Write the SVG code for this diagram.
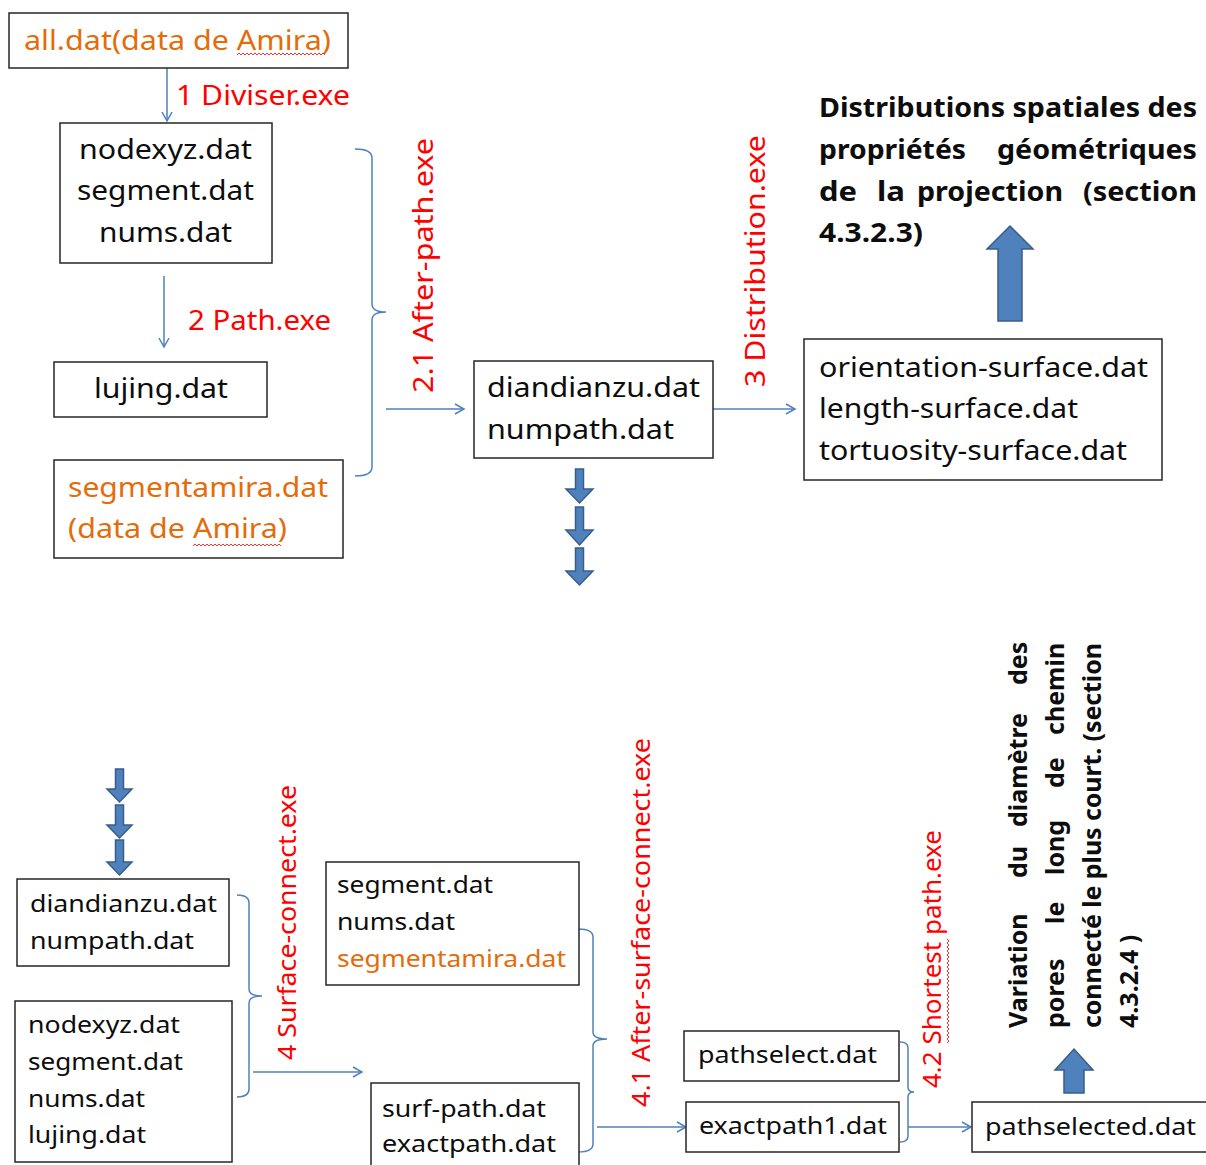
<svg xmlns="http://www.w3.org/2000/svg" width="1206" height="1165" viewBox="0 0 1206 1165">
<style>
.box{fill:#fff;stroke:#262626;stroke-width:1.5}
.t{font-family:"Noto Sans","Open Sans","Liberation Sans",sans-serif;font-size:27px;fill:#0d0d0d}
.s{font-size:24px}
.o{fill:#E46C0A}
.r{fill:#FF0000}
.b{font-weight:bold}
.conn{stroke:#4F81BD;stroke-width:1.5;fill:none}
.fat{fill:#4F81BD;stroke:#385D8A;stroke-width:1.5}
.sq{stroke:#FF3030;stroke-width:1;fill:none}
</style>
<defs>
<marker id="ah" markerWidth="12" markerHeight="12" refX="10" refY="6" orient="auto" markerUnits="userSpaceOnUse">
<path d="M1,1 L10,6 L1,11" fill="none" stroke="#4F81BD" stroke-width="1.5"/>
</marker>
</defs>
<rect width="1206" height="1165" fill="#fff"/>

<g id="connectors">
<line class="conn" x1="167" y1="68" x2="167" y2="121" marker-end="url(#ah)"/>
<line class="conn" x1="164" y1="276" x2="164" y2="347" marker-end="url(#ah)"/>
<path class="conn" d="M355,149 Q372,149 372,158 L372,304 Q372,312 386,312 Q372,312 372,320 L372,467 Q372,476 355,476"/>
<line class="conn" x1="386" y1="409" x2="464" y2="409" marker-end="url(#ah)"/>
<line class="conn" x1="713" y1="409" x2="795" y2="409" marker-end="url(#ah)"/>
<path class="conn" d="M237,895 Q249,895 249,903 L249,989 Q249,996 262,996 Q249,996 249,1003 L249,1089 Q249,1097 237,1097"/>
<line class="conn" x1="253" y1="1072" x2="362" y2="1072" marker-end="url(#ah)"/>
<path class="conn" d="M578,929 Q593,929 593,937 L593,1032 Q593,1039 607,1039 Q593,1039 593,1046 L593,1144 Q593,1152 578,1152"/>
<line class="conn" x1="597" y1="1127" x2="686" y2="1127" marker-end="url(#ah)"/>
<path class="conn" d="M900,1042 Q908,1042 908,1048 L908,1087 Q908,1092 914,1092 Q908,1092 908,1097 L908,1136 Q908,1142 900,1142"/>
<line class="conn" x1="908" y1="1127" x2="971" y2="1127" marker-end="url(#ah)"/>
<polygon class="fat" points="998,321 1022,321 1022,249 1033,249 1010,226 987,249 998,249"/>
<polygon class="fat" points="1064,1093 1084,1093 1084,1070 1093,1070 1074,1049 1055,1070 1064,1070"/>
<polygon class="fat" points="575.5,469 583.5,469 583.5,489 593,489 579.5,503 566,489 575.5,489"/>
<polygon class="fat" points="575.5,507 583.5,507 583.5,530 593,530 579.5,545 566,530 575.5,530"/>
<polygon class="fat" points="575.5,548 583.5,548 583.5,571 593,571 579.5,585 566,571 575.5,571"/>
<polygon class="fat" points="115.5,769 123.5,769 123.5,789 132,789 119.5,802 107,789 115.5,789"/>
<polygon class="fat" points="115.5,805 123.5,805 123.5,825 132,825 119.5,838 107,825 115.5,825"/>
<polygon class="fat" points="115.5,840 123.5,840 123.5,862 132,862 119.5,875 107,862 115.5,862"/>
</g>

<g id="labels">
<text class="t r" x="176" y="105" textLength="174" lengthAdjust="spacingAndGlyphs">1 Diviser.exe</text>
<text class="t r" x="188" y="330" textLength="143" lengthAdjust="spacingAndGlyphs">2 Path.exe</text>
<text class="t r" transform="translate(433,393) rotate(-90)" textLength="255" lengthAdjust="spacingAndGlyphs">2.1 After-path.exe</text>
<text class="t r" transform="translate(765,387) rotate(-90)" textLength="252" lengthAdjust="spacingAndGlyphs">3 Distribution.exe</text>
<text class="t r" style="font-size:25px" transform="translate(296,1060) rotate(-90)" textLength="275" lengthAdjust="spacingAndGlyphs">4 Surface-connect.exe</text>
<text class="t r" style="font-size:25px" transform="translate(650,1107) rotate(-90)" textLength="369" lengthAdjust="spacingAndGlyphs">4.1 After-surface-connect.exe</text>
<text class="t r" style="font-size:25px" transform="translate(941,1088) rotate(-90)" textLength="258" lengthAdjust="spacingAndGlyphs">4.2 Shortest path.exe</text>
<path class="sq" d="M947,1043 l2,-2 -2,-2 2,-2 -2,-2 2,-2 -2,-2 2,-2 -2,-2 2,-2 -2,-2 2,-2 -2,-2 2,-2 -2,-2 2,-2 -2,-2 2,-2 -2,-2 2,-2 -2,-2 2,-2 -2,-2 2,-2 -2,-2 2,-2 -2,-2 2,-2 -2,-2 2,-2 -2,-2 2,-2 -2,-2 2,-2 -2,-2 2,-2 -2,-2 2,-2 -2,-2 2,-2 -2,-2 2,-2 -2,-2 2,-2 -2,-2 2,-2 -2,-2 2,-2 -2,-2 2,-2 -2,-2 2,-2 -2,-2"/>
</g>

<g id="n-all">
<rect class="box" x="9" y="13" width="339" height="55"/>
<text class="t o" x="24" y="50" textLength="307" lengthAdjust="spacingAndGlyphs">all.dat(data de Amira)</text>
<path class="sq" d="M237,55 l2,-2 2,2 2,-2 2,2 2,-2 2,2 2,-2 2,2 2,-2 2,2 2,-2 2,2 2,-2 2,2 2,-2 2,2 2,-2 2,2 2,-2 2,2 2,-2 2,2 2,-2 2,2 2,-2 2,2 2,-2 2,2 2,-2 2,2 2,-2 2,2 2,-2 2,2 2,-2 2,2 2,-2 2,2 2,-2 2,2 2,-2 2,2 2,-2 2,2"/>
</g>

<g id="n-nodexyz">
<rect class="box" x="60" y="123" width="212" height="140"/>
<text class="t" x="165.5" y="159" text-anchor="middle" textLength="173" lengthAdjust="spacingAndGlyphs">nodexyz.dat</text>
<text class="t" x="165.5" y="200" text-anchor="middle" textLength="177" lengthAdjust="spacingAndGlyphs">segment.dat</text>
<text class="t" x="165.5" y="242" text-anchor="middle" textLength="133" lengthAdjust="spacingAndGlyphs">nums.dat</text>
</g>

<g id="n-lujing">
<rect class="box" x="54" y="362" width="213" height="55"/>
<text class="t" x="161" y="398" text-anchor="middle" textLength="134" lengthAdjust="spacingAndGlyphs">lujing.dat</text>
</g>

<g id="n-segmentamira">
<rect class="box" x="54" y="460" width="289" height="98"/>
<text class="t o" x="68" y="497" textLength="260" lengthAdjust="spacingAndGlyphs">segmentamira.dat</text>
<text class="t o" x="68" y="538" textLength="219" lengthAdjust="spacingAndGlyphs">(data de Amira)</text>
<path class="sq" d="M193,546 l2,-2 2,2 2,-2 2,2 2,-2 2,2 2,-2 2,2 2,-2 2,2 2,-2 2,2 2,-2 2,2 2,-2 2,2 2,-2 2,2 2,-2 2,2 2,-2 2,2 2,-2 2,2 2,-2 2,2 2,-2 2,2 2,-2 2,2 2,-2 2,2 2,-2 2,2 2,-2 2,2 2,-2 2,2 2,-2 2,2 2,-2 2,2 2,-2 2,2"/>
</g>

<g id="n-diandianzu">
<rect class="box" x="474" y="361" width="239" height="97"/>
<text class="t" x="487" y="397" textLength="213" lengthAdjust="spacingAndGlyphs">diandianzu.dat</text>
<text class="t" x="487" y="439" textLength="187" lengthAdjust="spacingAndGlyphs">numpath.dat</text>
</g>

<g id="n-orientation">
<rect class="box" x="804" y="339" width="358" height="141"/>
<text class="t" x="819" y="377" textLength="329" lengthAdjust="spacingAndGlyphs">orientation-surface.dat</text>
<text class="t" x="819" y="418" textLength="259" lengthAdjust="spacingAndGlyphs">length-surface.dat</text>
<text class="t" x="819" y="460" textLength="308" lengthAdjust="spacingAndGlyphs">tortuosity-surface.dat</text>
</g>

<g id="n-title-top">
<text class="t b" style="font-size:27px" x="819" y="117" textLength="378" lengthAdjust="spacingAndGlyphs">Distributions spatiales des</text>
<text class="t b" style="font-size:27px" y="159"><tspan x="819" textLength="147" lengthAdjust="spacingAndGlyphs">propriétés</tspan> <tspan x="997" textLength="200" lengthAdjust="spacingAndGlyphs">géométriques</tspan></text>
<text class="t b" style="font-size:27px" y="201"><tspan x="819" textLength="38" lengthAdjust="spacingAndGlyphs">de</tspan> <tspan x="877" textLength="28" lengthAdjust="spacingAndGlyphs">la</tspan> <tspan x="917" textLength="146" lengthAdjust="spacingAndGlyphs">projection</tspan> <tspan x="1083" textLength="114" lengthAdjust="spacingAndGlyphs">(section</tspan></text>
<text class="t b" style="font-size:27px" x="819" y="242" textLength="104" lengthAdjust="spacingAndGlyphs">4.3.2.3)</text>
</g>

<g id="n-diandianzu2">
<rect class="box" x="17" y="879" width="212" height="87"/>
<text class="t s" x="30" y="912" textLength="187" lengthAdjust="spacingAndGlyphs">diandianzu.dat</text>
<text class="t s" x="30" y="949" textLength="164" lengthAdjust="spacingAndGlyphs">numpath.dat</text>
</g>

<g id="n-nodexyz2">
<rect class="box" x="15" y="1001" width="217" height="161"/>
<text class="t s" x="28" y="1033" textLength="152" lengthAdjust="spacingAndGlyphs">nodexyz.dat</text>
<text class="t s" x="28" y="1070" textLength="155" lengthAdjust="spacingAndGlyphs">segment.dat</text>
<text class="t s" x="28" y="1107" textLength="117" lengthAdjust="spacingAndGlyphs">nums.dat</text>
<text class="t s" x="28" y="1143" textLength="118" lengthAdjust="spacingAndGlyphs">lujing.dat</text>
</g>

<g id="n-segment3">
<rect class="box" x="326" y="862" width="253" height="123"/>
<text class="t s" x="337" y="893" textLength="156" lengthAdjust="spacingAndGlyphs">segment.dat</text>
<text class="t s" x="337" y="930" textLength="118" lengthAdjust="spacingAndGlyphs">nums.dat</text>
<text class="t s o" x="337" y="967" textLength="229" lengthAdjust="spacingAndGlyphs">segmentamira.dat</text>
</g>

<g id="n-surfpath">
<rect class="box" x="371" y="1083" width="208" height="100"/>
<text class="t s" x="382" y="1117" textLength="164" lengthAdjust="spacingAndGlyphs">surf-path.dat</text>
<text class="t s" x="382" y="1152" textLength="174" lengthAdjust="spacingAndGlyphs">exactpath.dat</text>
</g>

<g id="n-pathselect">
<rect class="box" x="684" y="1031" width="215" height="50"/>
<text class="t s" x="698" y="1063" textLength="179" lengthAdjust="spacingAndGlyphs">pathselect.dat</text>
</g>

<g id="n-exactpath1">
<rect class="box" x="686" y="1102" width="213" height="50"/>
<text class="t s" x="699" y="1134" textLength="188" lengthAdjust="spacingAndGlyphs">exactpath1.dat</text>
</g>

<g id="n-pathselected">
<rect class="box" x="972" y="1102" width="250" height="50"/>
<text class="t s" x="985" y="1135" textLength="211" lengthAdjust="spacingAndGlyphs">pathselected.dat</text>
</g>

<g id="n-title-bottom">
<text class="t b" style="font-size:25px" transform="translate(1027,1028) rotate(-90)"><tspan x="0">Variation</tspan> <tspan x="150">du</tspan> <tspan x="201">diamètre</tspan> <tspan x="343">des</tspan></text>
<text class="t b" style="font-size:25px" transform="translate(1064,1028) rotate(-90)"><tspan x="0">pores</tspan> <tspan x="104">le</tspan> <tspan x="153">long</tspan> <tspan x="240">de</tspan> <tspan x="293">chemin</tspan></text>
<text class="t b" style="font-size:25px" transform="translate(1101,1028) rotate(-90)" textLength="385" lengthAdjust="spacing">connecté le plus court. (section</text>
<text class="t b" style="font-size:25px" transform="translate(1138,1028) rotate(-90)">4.3.2.4 )</text>
</g>
</svg>
